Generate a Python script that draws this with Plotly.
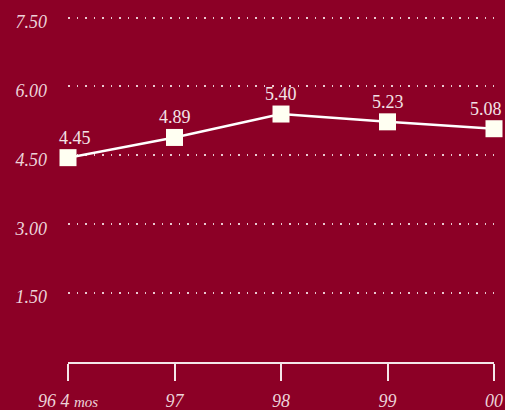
import plotly.graph_objects as go

categories = ["96 4 <span style='font-size:15px'>mos</span>", "97", "98", "99", "00"]
values = [4.45, 4.89, 5.40, 5.23, 5.08]
value_labels = ["4.45", "4.89", "5.40", "5.23", "5.08"]
y_ticks = [1.5, 3.0, 4.5, 6.0, 7.5]
y_ticktext = ["1.50", "3.00", "4.50", "6.00", "7.50"]

BG = "#8C0026"
LIGHT = "#EDD3D9"
SERIF = "Liberation Serif, Times New Roman, serif"
label_xshift = [7, 0, 0, 0, -8]

xs = list(range(len(values)))

fig = go.Figure()
fig.add_trace(go.Scatter(
    x=xs,
    y=values,
    mode="lines+markers",
    line=dict(color="#FFFFFF", width=2.5),
    marker=dict(symbol="square", size=17, color="#FFFFF2", line=dict(width=0)),
    cliponaxis=False,
    hoverinfo="skip",
))
for xi, v, t, sh in zip(xs, values, value_labels, label_xshift):
    fig.add_annotation(
        x=xi, y=v, text=t, showarrow=False,
        xanchor="center", yanchor="bottom", yshift=8, xshift=sh,
        font=dict(family=SERIF, size=18, color="#F3E3E7"),
    )

fig.update_layout(
    width=505, height=410,
    margin=dict(l=68, r=11, t=13, b=48),
    paper_bgcolor=BG, plot_bgcolor=BG,
    showlegend=False,
    xaxis=dict(
        range=[0, len(values) - 1],
        tickmode="array",
        tickvals=xs,
        ticktext=categories,
        showgrid=False, zeroline=False,
        showline=True, linecolor="#F4E6E9", linewidth=1.5,
        ticks="outside", ticklen=17, tickwidth=1.5, tickcolor="#F4E6E9",
        ticklabelstandoff=5,
        tickfont=dict(family=SERIF, size=18, color=LIGHT, style="italic"),
        automargin=False,
        fixedrange=True,
    ),
    yaxis=dict(
        range=[0, 7.6],
        tickmode="array",
        tickvals=y_ticks,
        ticktext=y_ticktext,
        showgrid=True, gridcolor="#E9C9D0", gridwidth=1.5, griddash="1.5px,7px",
        zeroline=False, showline=False, ticks="",
        ticklabelstandoff=20,
        ticklabelshift=4,
        tickfont=dict(family=SERIF, size=18, color=LIGHT, style="italic"),
        automargin=False,
        fixedrange=True,
    ),
)

fig.write_html("out.html")
